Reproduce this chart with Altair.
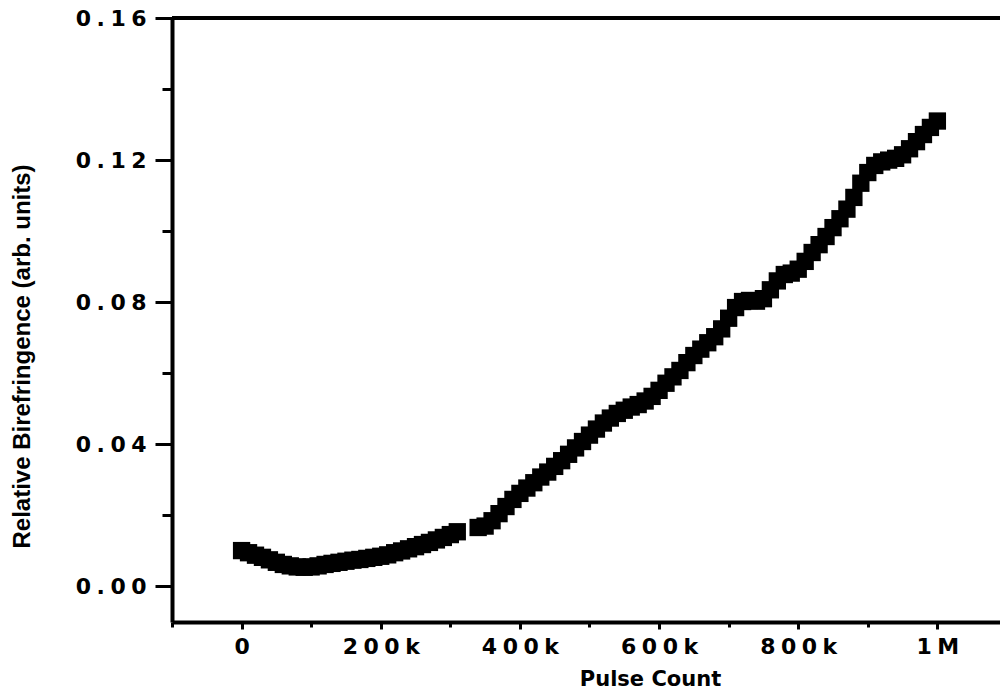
import altair as alt
import pandas as pd

# Pulse count (thousands) and relative birefringence, first run
run1_kpulses = [0, 10, 20, 30, 40, 50, 60, 70, 80, 90, 100, 110, 120, 130, 140,
                150, 160, 170, 180, 190, 200, 210, 220, 230, 240, 250, 260, 270,
                280, 290, 300, 310]
run1_biref = [0.0101, 0.0095, 0.0088, 0.0082, 0.0075, 0.0068, 0.0062, 0.0058,
              0.0055, 0.0054, 0.0055, 0.0058, 0.0062, 0.0065, 0.0068, 0.0071,
              0.0074, 0.0076, 0.0079, 0.0082, 0.0085, 0.0089, 0.0095, 0.0100,
              0.0106, 0.0112, 0.0118, 0.0124, 0.0131, 0.0138, 0.0146, 0.0154]

# Second run, after the gap
run2_kpulses = [340, 350, 360, 370, 380, 390, 400, 410, 420, 430, 440, 450, 460,
                470, 480, 490, 500, 510, 520, 530, 540, 550, 560, 570, 580, 590,
                600, 610, 620, 630, 640, 650, 660, 670, 680, 690, 700, 710, 720,
                730, 740, 750, 760, 770, 780, 790, 800, 810, 820, 830, 840, 850,
                860, 870, 880, 890, 900, 910, 920, 930, 940, 950, 960, 970, 980,
                990, 1000]
run2_biref = [0.0166, 0.0170, 0.0185, 0.0205, 0.0225, 0.0245, 0.0262, 0.0277,
              0.0292, 0.0308, 0.0322, 0.0338, 0.0354, 0.0372, 0.0390, 0.0408,
              0.0426, 0.0443, 0.0460, 0.0474, 0.0487, 0.0496, 0.0505, 0.0512,
              0.0522, 0.0535, 0.0552, 0.0572, 0.0590, 0.0608, 0.0630, 0.0650,
              0.0668, 0.0686, 0.0703, 0.0725, 0.0755, 0.0785, 0.0802, 0.0805,
              0.0803, 0.0810, 0.0835, 0.0860, 0.0878, 0.0882, 0.0893, 0.0915,
              0.0940, 0.0962, 0.0985, 0.1010, 0.1035, 0.1062, 0.1095, 0.1135,
              0.1165, 0.1185, 0.1195, 0.1200, 0.1205, 0.1215, 0.1232, 0.1252,
              0.1272, 0.1292, 0.1310]

x_ticks = [-100000, 0, 100000, 200000, 300000, 400000, 500000, 600000, 700000,
           800000, 900000, 1000000]
y_ticks = [0.0, 0.02, 0.04, 0.06, 0.08, 0.10, 0.12, 0.14, 0.16]

df = pd.DataFrame({
    "pulses": [k * 1000 for k in run1_kpulses + run2_kpulses],
    "biref": run1_biref + run2_biref,
})

PLOT_W, PLOT_H = 828, 604
TICK_FONT = "DejaVu Sans"
GAP = "\u2005"  # four-per-em space to widen the tick labels

x_major = "datum.value % 200000 == 0"
y_major = "abs(datum.value * 25 - round(datum.value * 25)) < 0.01"

x_axis = alt.Axis(
    values=x_ticks,
    labelExpr=(
        f"{x_major} ? join(split(datum.value == 0 ? '0' : "
        f"(datum.value >= 1000000 ? (datum.value / 1000000) + 'M' : "
        f"(datum.value / 1000) + 'k'), ''), '{GAP}') : ''"
    ),
    tickSize={"condition": {"test": x_major, "value": 7}, "value": 5},
    tickWidth=3,
    tickColor="black",
    domainColor="black",
    domainWidth=4,
    grid=False,
    labelFont=TICK_FONT,
    labelFontWeight="bold",
    labelFontSize=22,
    labelColor="black",
    labelPadding=7,
    title="Pulse Count",
    titleFont=TICK_FONT,
    titleFontWeight="bold",
    titleFontSize=21,
    titleColor="black",
    titleX=478,
    titleY=63,
    titleAlign="center",
    titleBaseline="alphabetic",
)

y_axis = alt.Axis(
    values=y_ticks,
    labelExpr=(
        f"{y_major} ? join(split(format(datum.value, '.2f'), ''), '{GAP}') : ''"
    ),
    tickSize={"condition": {"test": y_major, "value": 17}, "value": 10},
    tickWidth=3,
    tickColor="black",
    domainColor="black",
    domainWidth=4,
    grid=False,
    labelFont=TICK_FONT,
    labelFontWeight="bold",
    labelFontSize=22,
    labelColor="black",
    labelPadding=9,
    title="Relative Birefringence (arb. units)",
    titleFont="Liberation Sans",
    titleFontWeight="bold",
    titleFontSize=24,
    titleColor="black",
    titleX=-143,
    titleY=338,
    titleAlign="center",
    titleBaseline="alphabetic",
    titleAngle=270,
)

points = alt.Chart(df).mark_square(
    size=300, color="black", opacity=1, filled=True
).encode(
    x=alt.X("pulses:Q", scale=alt.Scale(domain=[-100000, 1090000], nice=False,
                                        zero=False), axis=x_axis),
    y=alt.Y("biref:Q", scale=alt.Scale(domain=[-0.01, 0.16], nice=False,
                                       zero=False), axis=y_axis),
)

# Upper frame line along the top of the plot area
top_line = alt.Chart(df).mark_rule(color="black", strokeWidth=4).encode(
    y=alt.datum(0.16),
    x=alt.value(0),
    x2=alt.value(PLOT_W),
)

chart = alt.layer(points, top_line).properties(
    width=PLOT_W,
    height=PLOT_H,
    autosize=alt.AutoSizeParams(type="none"),
    padding={"left": 172, "top": 18, "right": 0, "bottom": 69},
    background="white",
).configure_view(stroke=None)

chart.save("out.html", embed_options={"renderer": "svg", "actions": False})
